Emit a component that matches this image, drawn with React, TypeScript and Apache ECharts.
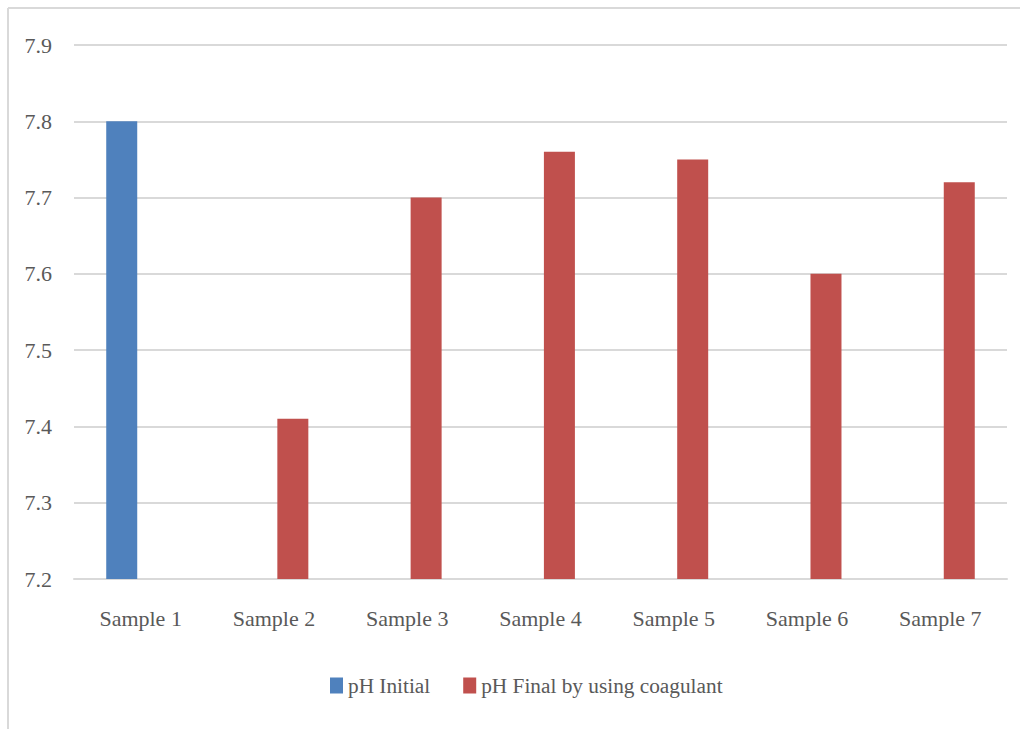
import React, { useEffect, useRef } from "react";
import * as echarts from "echarts";

const categories = ["Sample 1", "Sample 2", "Sample 3", "Sample 4", "Sample 5", "Sample 6", "Sample 7"];
const phInitial: (number | null)[] = [7.8, null, null, null, null, null, null];
const phFinal: (number | null)[] = [null, 7.41, 7.7, 7.76, 7.75, 7.6, 7.72];
const seriesNames = ["pH Initial", "pH Final by using coagulant"];

const FONT = '"Liberation Serif", "Times New Roman", serif';
const TEXT = "#595959";

export default function App() {
  const ref = useRef<HTMLDivElement>(null);
  useEffect(() => {
    if (!ref.current) return;
    const chart = echarts.init(ref.current, undefined, { renderer: "svg" });
    chart.setOption({
      animation: false,
      backgroundColor: "#ffffff",
      textStyle: { fontFamily: FONT },
      graphic: [
        { type: "line", shape: { x1: 8, y1: 8, x2: 1020, y2: 8 }, style: { stroke: "#d9d9d9", lineWidth: 2 } },
        { type: "line", shape: { x1: 8, y1: 8, x2: 8, y2: 729 }, style: { stroke: "#d9d9d9", lineWidth: 2 } },
      ],
      grid: { left: 74, right: 13, top: 45, bottom: 150, containLabel: false },
      legend: {
        left: 325,
        top: 670,
        itemWidth: 13,
        itemHeight: 16,
        itemGap: 33,
        icon: "rect",
        textStyle: { color: TEXT, fontSize: 21.3, fontFamily: FONT, padding: [0, 0, 0, 0] },
        data: seriesNames,
      },
      xAxis: {
        type: "category",
        data: categories,
        axisLine: { show: true, lineStyle: { color: "#d9d9d9", width: 2 } },
        axisTick: { show: false },
        axisLabel: { color: TEXT, fontSize: 22, fontFamily: FONT, margin: 28 },
      },
      yAxis: {
        type: "value",
        min: 7.2,
        max: 7.9,
        interval: 0.1,
        axisLine: { show: false },
        axisTick: { show: false },
        splitLine: { lineStyle: { color: "#d9d9d9", width: 2 } },
        axisLabel: {
          color: TEXT,
          fontSize: 22,
          fontFamily: FONT,
          margin: 22,
          formatter: (v: number) => v.toFixed(1),
        },
      },
      series: [
        {
          name: seriesNames[0],
          type: "bar",
          data: phInitial,
          barWidth: 31,
          barGap: "22%",
          itemStyle: { color: "#4f81bd" },
        },
        {
          name: seriesNames[1],
          type: "bar",
          data: phFinal,
          barWidth: 31,
          barGap: "22%",
          itemStyle: { color: "#c0504d" },
        },
      ],
    });
    return () => chart.dispose();
  }, []);
  return (
    <div style={{ position: "absolute", left: 0, top: 0, width: 1020, height: 729 }}>
      <div ref={ref} style={{ width: 1020, height: 729 }} />
    </div>
  );
}
